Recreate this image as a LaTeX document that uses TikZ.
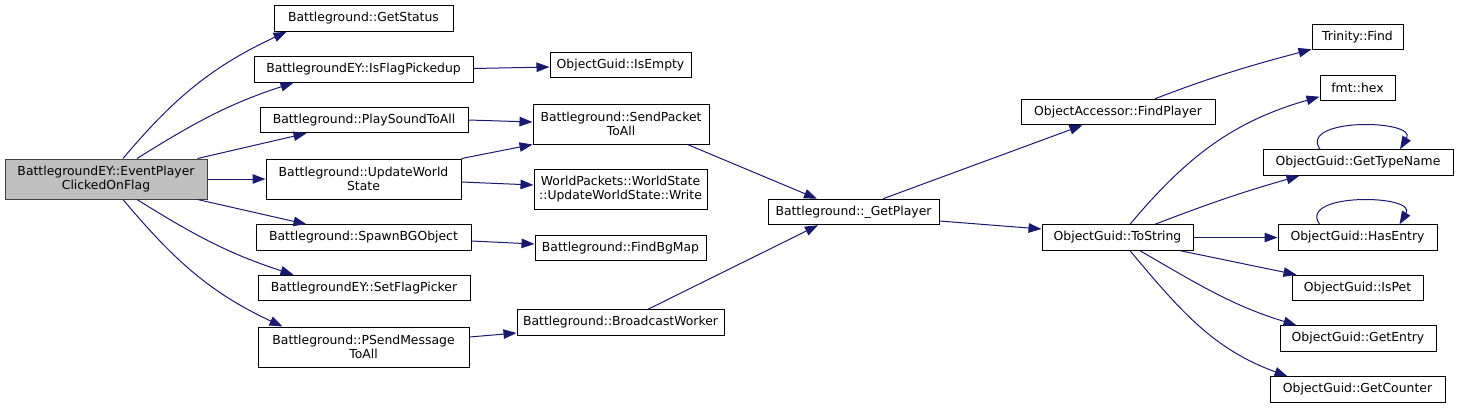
\documentclass[tikz,border=0pt]{standalone}
\usepackage{fontspec}
\setmainfont{DejaVu Sans}
\usepackage{tikz}
\usetikzlibrary{arrows.meta}
\definecolor{edgeblue}{HTML}{191970}
\definecolor{rootgray}{HTML}{BFBFBF}
\tikzset{fnbox/.style={draw=black, line width=1pt, rectangle, inner sep=0pt, minimum height=25.5pt, align=center, font=\fontsize{12.4}{14}\selectfont}}
\tikzset{rootbox/.style={fnbox, draw=black!75, fill=rootgray, minimum height=40pt}}
\tikzset{twoline/.style={fnbox, minimum height=40pt}}
\tikzset{call/.style={draw=edgeblue, line width=1pt, -{Triangle[length=13pt,width=9.5pt]}, color=edgeblue}}

\begin{document}
\begin{tikzpicture}[x=1pt,y=-1pt]
\useasboundingbox (0,0) rectangle (1459,408);
\node[rootbox, minimum width=202pt] (root) at (106,179) {BattlegroundEY::EventPlayer\\ClickedOnFlag};
\node[fnbox, minimum width=179pt] (getstatus) at (363.5,18.5) {Battleground::GetStatus};
\node[fnbox, minimum width=219pt] (isflag) at (363.5,69.5) {BattlegroundEY::IsFlagPickedup};
\node[fnbox, minimum width=208pt] (playsound) at (364,120) {Battleground::PlaySoundToAll};
\node[twoline, minimum width=195pt] (update) at (363.5,179) {Battleground::UpdateWorld\\State};
\node[fnbox, minimum width=215pt] (spawn) at (363.5,237.5) {Battleground::SpawnBGObject};
\node[fnbox, minimum width=212pt] (setflag) at (364,288) {BattlegroundEY::SetFlagPicker};
\node[twoline, minimum width=211pt] (psend) at (363.5,347) {Battleground::PSendMessage\\ToAll};
\node[fnbox, minimum width=141pt] (isempty) at (620.5,65) {ObjectGuid::IsEmpty};
\node[twoline, minimum width=176pt] (sendpacket) at (621,124) {Battleground::SendPacket\\ToAll};
\node[twoline, minimum width=173pt] (write) at (620.5,189) {WorldPackets::WorldState\\::UpdateWorldState::Write};
\node[fnbox, minimum width=171pt] (findbgmap) at (620.5,248) {Battleground::FindBgMap};
\node[fnbox, minimum width=207pt] (broadcast) at (620.5,322.5) {Battleground::BroadcastWorker};
\node[fnbox, minimum width=171pt] (getplayer) at (853.5,212) {Battleground::\_GetPlayer};
\node[fnbox, minimum width=194pt] (findplayer) at (1118,112) {ObjectAccessor::FindPlayer};
\node[fnbox, minimum width=151pt] (tostring) at (1117.5,237.5) {ObjectGuid::ToString};
\node[fnbox, minimum width=91pt] (find) at (1357.5,37) {Trinity::Find};
\node[fnbox, minimum width=75pt] (hex) at (1357.5,88) {fmt::hex};
\node[fnbox, minimum width=190pt] (typename) at (1358,162.5) {ObjectGuid::GetTypeName};
\node[fnbox, minimum width=159pt] (hasentry) at (1357.5,237.5) {ObjectGuid::HasEntry};
\node[fnbox, minimum width=131pt] (ispet) at (1357.5,288) {ObjectGuid::IsPet};
\node[fnbox, minimum width=156pt] (getentry) at (1358,338.5) {ObjectGuid::GetEntry};
\node[fnbox, minimum width=175pt] (getcounter) at (1357.5,389.5) {ObjectGuid::GetCounter};

\draw[call] ([xshift=17pt]root.north) to[out=50, in=205] ([xshift=13pt]getstatus.south west);
\draw[call] ([xshift=31pt]root.north) to[out=32, in=198] ([xshift=40pt]isflag.south west);
\draw[call] ([xshift=-10pt]root.north east) -- ([xshift=47pt]playsound.south west);
\draw[call] (root.east) -- (update.west);
\draw[call] ([xshift=-10pt]root.south east) -- ([xshift=51pt]spawn.north west);
\draw[call] ([xshift=31pt]root.south) to[out=-32, in=162] ([xshift=36pt]setflag.north west);
\draw[call] ([xshift=17pt]root.south) to[out=-50, in=155] ([xshift=25pt]psend.north west);
\draw[call] ([yshift=1pt]isflag.east) -- ([yshift=-2pt]isempty.west);
\draw[call] (playsound.east) -- ([yshift=2pt]sendpacket.west);
\draw[call] (update.north east) -- (sendpacket.south west);
\draw[call] ([yshift=-3pt]update.east) -- ([yshift=4pt]write.west);
\draw[call] ([yshift=-3.5pt]spawn.east) -- ([yshift=4pt]findbgmap.west);
\draw[call] ([yshift=10pt]psend.east) -- ([yshift=-10.5pt]broadcast.west);
\draw[call] ([xshift=-22pt]sendpacket.south east) -- ([xshift=-36.5pt]getplayer.north);
\draw[call] ([xshift=27.5pt]broadcast.north) -- ([xshift=-35.5pt]getplayer.south);
\draw[call] ([xshift=29.5pt]getplayer.north) -- ([xshift=62pt]findplayer.south west);
\draw[call] ([yshift=-9pt]getplayer.east) -- ([yshift=8.5pt]tostring.west);
\draw[call] ([xshift=37pt]findplayer.north) to[out=21, in=195] ([yshift=1pt]find.south west);
\draw[call] ([xshift=12.5pt]tostring.north) to[out=50, in=196] ([yshift=-8.7pt]hex.west);
\draw[call] ([xshift=37.5pt]tostring.north) to[out=21, in=196] ([xshift=37pt]typename.south west);
\draw[call] (tostring.east) -- (hasentry.west);
\draw[call] ([xshift=-13pt]tostring.south east) -- ([xshift=5pt]ispet.north west);
\draw[call] ([xshift=22.5pt]tostring.south) to[out=-30, in=163] ([xshift=17pt]getentry.north west);
\draw[call] ([xshift=12.5pt]tostring.south) to[out=-50, in=160] ([xshift=18pt]getcounter.north west);
\draw[call] ([xshift=-38pt]typename.north) .. controls +(-22,-32) and +(18,-30) .. ([xshift=42pt]typename.north);
\draw[call] ([xshift=-38pt]hasentry.north) .. controls +(-22,-32) and +(18,-30) .. ([xshift=42pt]hasentry.north);
\end{tikzpicture}
\end{document}
